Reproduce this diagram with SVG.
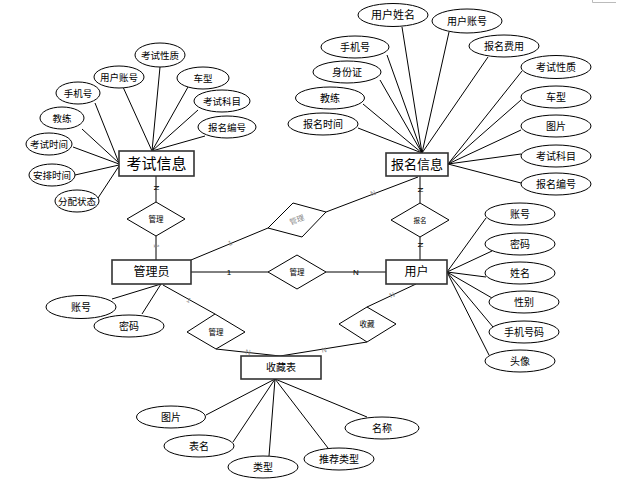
<svg xmlns="http://www.w3.org/2000/svg" width="642" height="494" viewBox="0 0 642 494">
<style>
text{font-family:"Liberation Sans","Noto Sans CJK SC",sans-serif;text-anchor:middle;dominant-baseline:central;fill:#000}
.ent rect{fill:#fff;stroke:#333;stroke-width:1.6}
.att ellipse{fill:#fff;stroke:#000;stroke-width:1}
.rel polygon{fill:#fff;stroke:#000;stroke-width:1}
.att text{font-size:10px}
.sm text{font-size:9.5px}
.rel text{font-size:7.5px}
#connectors line{stroke:#000;stroke-width:1}
.card{font-size:7px;fill:#000}
.cg{font-size:7px;fill:#888}
</style>
<rect width="642" height="494" fill="#fff"/>
<path d="M592.5 0V2.5H616" fill="none" stroke="#bbb" stroke-width="1"/>
<g id="connectors">
<line x1="160" y1="67" x2="152" y2="151"/>
<line x1="123" y1="87" x2="152" y2="151"/>
<line x1="188" y1="87" x2="152" y2="151"/>
<line x1="198" y1="110" x2="152" y2="151"/>
<line x1="205" y1="136" x2="152" y2="151"/>
<line x1="95" y1="103" x2="119" y2="163"/>
<line x1="82" y1="129" x2="119" y2="163"/>
<line x1="73" y1="147" x2="119" y2="164"/>
<line x1="75" y1="175" x2="119" y2="165"/>
<line x1="98" y1="198" x2="119" y2="166"/>
<line x1="402" y1="27" x2="422" y2="153"/>
<line x1="449" y1="32" x2="422" y2="153"/>
<line x1="387" y1="55" x2="422" y2="153"/>
<line x1="488" y1="57" x2="422" y2="153"/>
<line x1="380" y1="80" x2="422" y2="153"/>
<line x1="363" y1="104" x2="422" y2="153"/>
<line x1="358" y1="128" x2="422" y2="153"/>
<line x1="522" y1="71" x2="448" y2="164"/>
<line x1="521" y1="100" x2="448" y2="164"/>
<line x1="521" y1="130" x2="448" y2="164"/>
<line x1="521" y1="154" x2="448" y2="164"/>
<line x1="521" y1="183" x2="448" y2="164"/>
<line x1="486" y1="218" x2="447" y2="272"/>
<line x1="492" y1="251" x2="447" y2="272"/>
<line x1="486" y1="277" x2="447" y2="272"/>
<line x1="492" y1="298" x2="447" y2="272"/>
<line x1="493" y1="327" x2="447" y2="272"/>
<line x1="489" y1="355" x2="447" y2="272"/>
<line x1="112" y1="299" x2="161" y2="284"/>
<line x1="142" y1="314" x2="161" y2="284"/>
<line x1="206" y1="415" x2="275" y2="379"/>
<line x1="233" y1="442" x2="275" y2="379"/>
<line x1="269" y1="456" x2="275" y2="379"/>
<line x1="328" y1="448" x2="275" y2="379"/>
<line x1="367" y1="417" x2="275" y2="379"/>
<line x1="156" y1="176" x2="156" y2="202"/>
<line x1="156" y1="236" x2="156" y2="260"/>
<line x1="420" y1="176" x2="420" y2="203"/>
<line x1="420" y1="237" x2="420" y2="260"/>
<line x1="191" y1="272" x2="268" y2="272"/>
<line x1="326" y1="272" x2="386" y2="272"/>
<line x1="191" y1="260" x2="268" y2="228"/>
<line x1="326" y1="212" x2="418" y2="177"/>
<line x1="163" y1="285" x2="215" y2="314"/>
<line x1="216" y1="349" x2="280" y2="356"/>
<line x1="416" y1="284" x2="367" y2="307"/>
<line x1="367" y1="342" x2="280" y2="356"/>
<text class="card" transform="translate(156 188) rotate(90)">N</text>
<text class="cg" transform="translate(156 246) rotate(90)">1</text>
<text class="card" transform="translate(420 190) rotate(90)">N</text>
<text class="card" transform="translate(420 245) rotate(90)">N</text>
<text class="card" x="229" y="272" style="font-size:8px">1</text>
<text class="card" x="356" y="272" style="font-size:8px">N</text>
<text class="cg" transform="translate(230 243) rotate(-22)">1</text>
<text class="cg" transform="translate(373 193) rotate(-21)">N</text>
<text class="cg" transform="translate(189 300) rotate(29)">1</text>
<text class="cg" transform="translate(248 352) rotate(6)">N</text>
<text class="cg" transform="translate(324 350) rotate(-9)">N</text>
<text class="cg" transform="translate(392 295) rotate(-25)">N</text>
</g>
<g id="e-kaoshi" class="ent"><rect x="119" y="151" width="75" height="25"/><text x="156.5" y="163.5" style="font-size:15px">考试信息</text></g>
<g id="e-baoming" class="ent"><rect x="386" y="153" width="62" height="23"/><text x="417" y="164.5" style="font-size:13px">报名信息</text></g>
<g id="e-admin" class="ent"><rect x="112" y="260" width="79" height="24"/><text x="151.5" y="272" style="font-size:12px">管理员</text></g>
<g id="e-user" class="ent"><rect x="386" y="260" width="61" height="24"/><text x="416.5" y="272" style="font-size:12px">用户</text></g>
<g id="e-shoucang" class="ent"><rect x="241" y="356" width="80" height="23"/><text x="281" y="367.5" style="font-size:10px">收藏表</text></g>
<g id="r-guanli1" class="rel"><polygon points="156,202 185,219 156,236 127,219"/><text x="156" y="219">管理</text></g>
<g id="r-baoming" class="rel"><polygon points="420,203 449,220 420,237 391,220"/><text x="420" y="220" style="font-size:6.5px">报名</text></g>
<g id="r-guanli2" class="rel"><polygon points="268,272 297,255 326,272 297,289"/><text x="297" y="272">管理</text></g>
<g id="r-guanli3" class="rel"><polygon points="268,228 293,203 326,212 302,237"/><text transform="translate(297 220) rotate(-20)" style="fill:#888">管理</text></g>
<g id="r-guanli4" class="rel"><polygon points="187,332 215,314 245,332 216,349"/><text x="216" y="332">管理</text></g>
<g id="r-shoucang" class="rel"><polygon points="339,324 367,307 396,324 367,342"/><text x="367" y="324">收藏</text></g>
<g id="a-k1" class="att sm"><ellipse cx="160" cy="55" rx="25" ry="12"/><text x="160" y="55">考试性质</text></g>
<g id="a-k2" class="att sm"><ellipse cx="119" cy="77" rx="25" ry="11"/><text x="119" y="77">用户账号</text></g>
<g id="a-k3" class="att sm"><ellipse cx="78" cy="93" rx="22" ry="11"/><text x="78" y="93">手机号</text></g>
<g id="a-k4" class="att sm"><ellipse cx="62" cy="118" rx="22" ry="11"/><text x="62" y="118">教练</text></g>
<g id="a-k5" class="att sm"><ellipse cx="49" cy="144" rx="23" ry="11"/><text x="49" y="144">考试时间</text></g>
<g id="a-k6" class="att sm"><ellipse cx="52" cy="175" rx="23" ry="11"/><text x="52" y="175">安排时间</text></g>
<g id="a-k7" class="att sm"><ellipse cx="77" cy="201" rx="22" ry="11"/><text x="77" y="201">分配状态</text></g>
<g id="a-k8" class="att sm"><ellipse cx="203" cy="78" rx="26" ry="11"/><text x="203" y="78">车型</text></g>
<g id="a-k9" class="att sm"><ellipse cx="222" cy="101" rx="28" ry="11"/><text x="222" y="101">考试科目</text></g>
<g id="a-k10" class="att sm"><ellipse cx="227" cy="127" rx="29" ry="11"/><text x="227" y="127">报名编号</text></g>
<g id="a-b1" class="att"><ellipse cx="393" cy="15" rx="35" ry="11.5"/><text x="393" y="15" style="font-size:11px">用户姓名</text></g>
<g id="a-b2" class="att"><ellipse cx="467" cy="21" rx="35" ry="12"/><text x="467" y="21">用户账号</text></g>
<g id="a-b3" class="att"><ellipse cx="355" cy="47" rx="34" ry="11"/><text x="355" y="47">手机号</text></g>
<g id="a-b4" class="att"><ellipse cx="504" cy="46" rx="35" ry="11"/><text x="504" y="46">报名费用</text></g>
<g id="a-b5" class="att"><ellipse cx="347" cy="72" rx="34" ry="11"/><text x="347" y="72">身份证</text></g>
<g id="a-b6" class="att"><ellipse cx="556" cy="67" rx="35" ry="11.5"/><text x="556" y="67">考试性质</text></g>
<g id="a-b7" class="att"><ellipse cx="330" cy="98" rx="34.5" ry="11"/><text x="330" y="98">教练</text></g>
<g id="a-b8" class="att"><ellipse cx="556" cy="97" rx="35" ry="11"/><text x="556" y="97">车型</text></g>
<g id="a-b9" class="att"><ellipse cx="323" cy="124" rx="35" ry="11"/><text x="323" y="124">报名时间</text></g>
<g id="a-b10" class="att"><ellipse cx="556" cy="126" rx="35" ry="11"/><text x="556" y="126">图片</text></g>
<g id="a-b11" class="att"><ellipse cx="556" cy="156" rx="35" ry="11"/><text x="556" y="156">考试科目</text></g>
<g id="a-b12" class="att"><ellipse cx="556" cy="184" rx="35" ry="11"/><text x="556" y="184">报名编号</text></g>
<g id="a-u1" class="att"><ellipse cx="520" cy="214" rx="35" ry="11"/><text x="520" y="214">账号</text></g>
<g id="a-u2" class="att"><ellipse cx="520" cy="244" rx="35" ry="11"/><text x="520" y="244">密码</text></g>
<g id="a-u3" class="att"><ellipse cx="520" cy="273" rx="35" ry="11"/><text x="520" y="273">姓名</text></g>
<g id="a-u4" class="att"><ellipse cx="524" cy="302" rx="35" ry="11"/><text x="524" y="302">性别</text></g>
<g id="a-u5" class="att"><ellipse cx="524" cy="332" rx="35" ry="11"/><text x="524" y="332">手机号码</text></g>
<g id="a-u6" class="att"><ellipse cx="520" cy="361" rx="35" ry="11"/><text x="520" y="361">头像</text></g>
<g id="a-m1" class="att"><ellipse cx="81" cy="307" rx="35" ry="11.5"/><text x="81" y="307">账号</text></g>
<g id="a-m2" class="att"><ellipse cx="129" cy="326" rx="35" ry="11"/><text x="129" y="326">密码</text></g>
<g id="a-s1" class="att"><ellipse cx="171" cy="417" rx="34.5" ry="11"/><text x="171" y="417">图片</text></g>
<g id="a-s2" class="att"><ellipse cx="199" cy="446" rx="35" ry="11"/><text x="199" y="446">表名</text></g>
<g id="a-s3" class="att"><ellipse cx="263" cy="467" rx="35" ry="11"/><text x="263" y="467">类型</text></g>
<g id="a-s4" class="att"><ellipse cx="339" cy="459" rx="35" ry="11"/><text x="339" y="459">推荐类型</text></g>
<g id="a-s5" class="att"><ellipse cx="382" cy="428" rx="37" ry="11"/><text x="382" y="428">名称</text></g>
</svg>
